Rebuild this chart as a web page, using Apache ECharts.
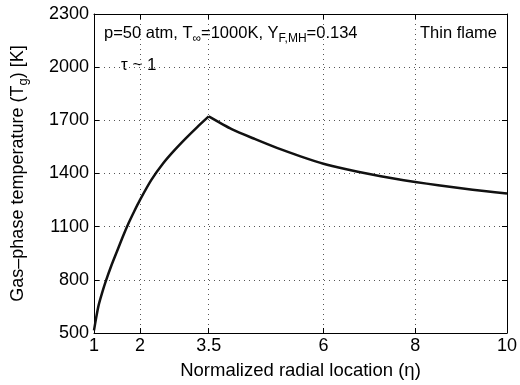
<!DOCTYPE html>
<html><head><meta charset="utf-8">
<script src="https://cdn.jsdelivr.net/npm/echarts@6/dist/echarts.min.js"></script>
<style>html,body{margin:0;padding:0;background:#fff}#c{width:520px;height:385px}</style>
</head><body><div id="c"></div>
<script>
const etaRise = [1.0, 1.05, 1.1, 1.175, 1.25, 1.375, 1.5, 1.625, 1.75, 1.875, 2.0, 2.25, 2.5, 2.75, 3.0, 3.25, 3.5];
const tRise   = [515, 590, 656, 725, 787, 878, 960, 1042, 1118, 1186, 1250, 1364, 1455, 1530, 1598, 1662, 1722];
const etaFall = [3.5, 4.0, 4.5, 5.0, 5.5, 6.0, 6.5, 7.0, 7.5, 8.0, 8.5, 9.0, 9.5, 10];
const tFall   = [1722, 1650, 1595, 1543, 1497, 1455, 1424, 1397, 1373, 1352, 1334, 1317, 1301, 1287];
const xTicks = [1, 2, 3.5, 6, 8, 10];
const yTicks = [500, 800, 1100, 1400, 1700, 2000, 2300];

const F = 'Liberation Sans, Arial, Helvetica, sans-serif';
const chart = echarts.init(document.getElementById('c'), null, {renderer:'canvas'});
const axLine = {show:true, lineStyle:{color:'#000', width:1}};
const split = {show:true, lineStyle:{color:'#555', type:[1,4], width:1}};
chart.setOption({
  animation:false,
  grid:{left:94, right:9, top:14, bottom:47},
  xAxis:[{
    type:'value', min:1, max:10, position:'bottom',
    axisLine:axLine,
    axisTick:{show:true, inside:true, length:5, customValues:xTicks, lineStyle:{color:'#000'}},
    axisLabel:{customValues:xTicks, color:'#000', fontFamily:F, fontSize:18, margin:4,
      formatter:v=>String(v)},
    splitLine:split,
    name:'Normalized radial location (\u03b7)', nameLocation:'middle', nameGap:28,
    nameTextStyle:{color:'#000', fontFamily:F, fontSize:18.5}
  },{
    type:'value', min:1, max:10, position:'top',
    axisLine:axLine,
    axisTick:{show:true, inside:true, length:5, customValues:xTicks, lineStyle:{color:'#000'}},
    axisLabel:{show:false}, splitLine:{show:false}
  }],
  yAxis:[{
    type:'value', min:500, max:2300, interval:300, position:'left',
    axisLine:axLine,
    axisTick:{show:true, inside:true, length:5, customValues:yTicks, lineStyle:{color:'#000'}},
    axisLabel:{customValues:yTicks, color:'#000', fontFamily:F, fontSize:18, margin:5,
      formatter:v=>String(v)},
    splitLine:split,
    name:'{n|Gas\u2013phase temperature (T}{s|g}{n|) [K]}', nameLocation:'middle', nameGap:64,
    nameTextStyle:{color:'#000', fontFamily:F, fontSize:18,
      rich:{n:{fontFamily:F, fontSize:18, color:'#000'}, s:{fontFamily:F, fontSize:13, color:'#000', padding:[10,0,0,0]}}}
  },{
    type:'value', min:500, max:2300, interval:300, position:'right',
    axisLine:axLine,
    axisTick:{show:true, inside:true, length:5, lineStyle:{color:'#000'}},
    axisLabel:{show:false}, splitLine:{show:false}
  }],
  series:[{
    type:'line', xAxisIndex:0, yAxisIndex:0, showSymbol:false, smooth:0.2,
    lineStyle:{color:'#111', width:2.5, join:'round'},
    data: etaRise.map((e,i)=>[e, tRise[i]])
  },{
    type:'line', xAxisIndex:0, yAxisIndex:0, showSymbol:false, smooth:0.2,
    lineStyle:{color:'#111', width:2.5, join:'round'},
    data: etaFall.map((e,i)=>[e, tFall[i]])
  }],
  graphic:[{
    type:'text', left:104, top:25,
    style:{text:'{n|p=50 atm, T}{s|\u221e}{n|=1000K, Y}{s|F,MH}{n|=0.134}', fill:'#000',
      rich:{n:{fontFamily:F, fontSize:16.5, fill:'#000'}, s:{fontFamily:F, fontSize:12, fill:'#000', padding:[11,0,0,0]}}}
  },{
    type:'text', left:420, top:25,
    style:{text:'Thin flame', fontFamily:F, fontSize:16.5, fill:'#000'}
  },{
    type:'text', left:121, top:57,
    style:{text:'\u03c4 ~ 1', fontFamily:F, fontSize:17, fill:'#000'}
  }]
});
</script></body></html>
